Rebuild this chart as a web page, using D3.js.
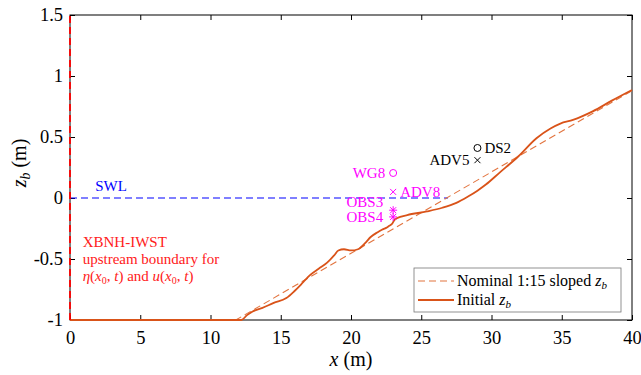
<!DOCTYPE html>
<html>
<head>
<meta charset="utf-8">
<script src="https://cdn.jsdelivr.net/npm/d3@7"></script>
<style>
  body { margin: 0; background: #fff; }
  text { font-family: "Liberation Serif", "DejaVu Serif", serif; }
</style>
</head>
<body>
<svg id="chart" width="641" height="375"></svg>
<script>
// 初始床面剖面 (x, z_b)
const bedX = [0, 5, 10, 12.2, 12.6, 13.0, 13.7, 14.5, 15.4, 16.0, 16.6, 17.1, 17.7, 18.3, 18.8, 19.1, 19.5, 20.0, 20.5, 21.0, 21.4, 21.9, 22.2, 22.5, 22.7, 22.9, 23.1, 23.5, 24.0, 25.4, 26.5, 27.5, 28.3, 29.0, 29.6, 30.6, 31.9, 33.2, 34.2, 34.9, 35.8, 37.2, 38.6, 40];
const bedZ = [-1, -1, -1, -1, -0.96, -0.93, -0.90, -0.86, -0.82, -0.76, -0.69, -0.63, -0.58, -0.53, -0.47, -0.43, -0.42, -0.43, -0.42, -0.37, -0.32, -0.28, -0.26, -0.245, -0.23, -0.215, -0.18, -0.155, -0.14, -0.11, -0.08, -0.04, 0.01, 0.06, 0.11, 0.21, 0.34, 0.49, 0.57, 0.61, 0.64, 0.71, 0.80, 0.885];

// 名义 1:15 坡度
const nominalX = [0, 11.8, 40];
const nominalZ = [-1, -1, 0.88];

// 测点
const probes = [
  { name: 'WG8', x: 23, z: 0.205, sym: 'o', color: '#ff00ff', side: 'left' },
  { name: 'ADV8', x: 23, z: 0.05, sym: 'x', color: '#ff00ff', side: 'right' },
  { name: 'OBS3', x: 23, z: -0.10, sym: '*', color: '#ff00ff', side: 'none' },
  { name: 'OBS4', x: 23, z: -0.155, sym: '*', color: '#ff00ff', side: 'none' },
  { name: 'DS2', x: 29, z: 0.41, sym: 'o', color: '#000', side: 'right' },
  { name: 'ADV5', x: 29, z: 0.31, sym: 'x', color: '#000', side: 'left' }
];

const xTicks = [0, 5, 10, 15, 20, 25, 30, 35, 40];
const yTicks = [-1, -0.5, 0, 0.5, 1, 1.5];

const margin = { top: 15, right: 9, bottom: 55, left: 70 };
const width = 641 - margin.left - margin.right;
const height = 375 - margin.top - margin.bottom;

const svg = d3.select('#chart');
const g = svg.append('g').attr('transform', `translate(${margin.left},${margin.top})`);

const x = d3.scaleLinear().domain([0, 40]).range([0, width]);
const y = d3.scaleLinear().domain([-1, 1.5]).range([height, 0]);

const orange = '#d95319';
const magenta = '#ff00ff';

// 坐标轴
const axisStyle = sel => {
  sel.select('.domain').remove();
  sel.selectAll('line').attr('stroke', '#000');
  sel.selectAll('text').attr('font-size', 18.5).attr('fill', '#000')
    .style('font-family', '"Liberation Serif", serif');
};
g.append('g').attr('transform', `translate(0,${height})`)
  .call(d3.axisBottom(x).tickValues(xTicks).tickSize(-5).tickPadding(11).tickFormat(d3.format('d')))
  .call(axisStyle);
g.append('g')
  .call(d3.axisLeft(y).tickValues(yTicks).tickSize(-5).tickPadding(7).tickFormat(d => d))
  .call(axisStyle);
g.append('g').attr('transform', `translate(${width},0)`)
  .call(d3.axisRight(y).tickValues(yTicks).tickSize(-5).tickFormat(''))
  .call(axisStyle);
g.append('g')
  .call(d3.axisTop(x).tickValues(xTicks).tickSize(-5).tickFormat(''))
  .call(axisStyle);
g.append('rect').attr('width', width).attr('height', height)
  .attr('fill', 'none').attr('stroke', '#000').attr('stroke-width', 1);

// SWL
g.append('line')
  .attr('x1', x(0)).attr('x2', x(26.9))
  .attr('y1', y(0)).attr('y2', y(0))
  .attr('stroke', '#0000ff').attr('stroke-width', 1.2)
  .attr('stroke-dasharray', '7,4');
g.append('text').attr('x', x(1.8)).attr('y', y(0) - 7)
  .attr('fill', '#0000ff').attr('font-size', 15).text('SWL');

// 名义坡度
const line = d3.line().x(d => x(d[0])).y(d => y(d[1]));
g.append('path')
  .datum(d3.zip(nominalX, nominalZ))
  .attr('d', line)
  .attr('fill', 'none').attr('stroke', '#e2743f').attr('stroke-width', 1.1)
  .attr('stroke-dasharray', '7,4');

// 初始床面
g.append('path')
  .datum(d3.zip(bedX, bedZ))
  .attr('d', line.curve(d3.curveMonotoneX))
  .attr('fill', 'none').attr('stroke', orange).attr('stroke-width', 1.8);

// 上游边界
g.append('line')
  .attr('x1', x(0)).attr('x2', x(0))
  .attr('y1', y(-1)).attr('y2', y(1.5))
  .attr('stroke', '#ff0000').attr('stroke-width', 1.8)
  .attr('stroke-dasharray', '7,4');

const red = g.append('text').attr('fill', '#ff2020').attr('font-size', 15);
red.append('tspan').attr('x', x(0.9)).attr('y', y(-0.4)).text('XBNH-IWST');
red.append('tspan').attr('x', x(0.9)).attr('y', y(-0.54)).text('upstream boundary for');
const l3 = red.append('tspan').attr('x', x(0.9)).attr('y', y(-0.68));
l3.append('tspan').attr('font-style', 'italic').text('η');
l3.append('tspan').text('(');
l3.append('tspan').attr('font-style', 'italic').text('x');
l3.append('tspan').attr('font-size', 10).attr('dy', 3).text('0');
l3.append('tspan').attr('dy', -3).text(', ');
l3.append('tspan').attr('font-style', 'italic').text('t');
l3.append('tspan').text(') and ');
l3.append('tspan').attr('font-style', 'italic').text('u');
l3.append('tspan').text('(');
l3.append('tspan').attr('font-style', 'italic').text('x');
l3.append('tspan').attr('font-size', 10).attr('dy', 3).text('0');
l3.append('tspan').attr('dy', -3).text(', ');
l3.append('tspan').attr('font-style', 'italic').text('t');
l3.append('tspan').text(')');

// 测点符号
probes.forEach(p => {
  const px = x(p.x), py = y(p.z);
  const s = g.append('g').attr('stroke', p.color).attr('fill', 'none').attr('stroke-width', 1);
  if (p.sym === 'o') {
    s.append('circle').attr('cx', px).attr('cy', py).attr('r', 3.5);
  } else if (p.sym === 'x') {
    s.append('path').attr('d', `M${px - 3},${py - 3}L${px + 3},${py + 3}M${px - 3},${py + 3}L${px + 3},${py - 3}`);
  } else {
    s.append('path').attr('d', `M${px - 3},${py - 3}L${px + 3},${py + 3}M${px - 3},${py + 3}L${px + 3},${py - 3}M${px},${py - 4}L${px},${py + 4}M${px - 4},${py}L${px + 4},${py}`);
  }
  if (p.side === 'left') {
    g.append('text').attr('x', px - 8).attr('y', py + 5).attr('text-anchor', 'end')
      .attr('fill', p.color).attr('font-size', 15).text(p.name);
  } else if (p.side === 'right') {
    g.append('text').attr('x', px + 7).attr('y', py + 5)
      .attr('fill', p.color).attr('font-size', 15).text(p.name);
  }
});
g.append('text').attr('x', x(23) - 10).attr('y', y(-0.07)).attr('text-anchor', 'end')
  .attr('fill', magenta).attr('font-size', 15).text('OBS3');
g.append('text').attr('x', x(23) - 10).attr('y', y(-0.195)).attr('text-anchor', 'end')
  .attr('fill', magenta).attr('font-size', 15).text('OBS4');

// 轴标题
const xl = svg.append('text').attr('x', margin.left + width / 2).attr('y', 366)
  .attr('text-anchor', 'middle').attr('font-size', 20);
xl.append('tspan').attr('font-style', 'italic').text('x');
xl.append('tspan').text(' (m)');
const yl = svg.append('text')
  .attr('transform', 'translate(26,163) rotate(-90)')
  .attr('text-anchor', 'middle').attr('font-size', 20);
yl.append('tspan').attr('font-style', 'italic').text('z');
yl.append('tspan').attr('font-style', 'italic').attr('font-size', 14).attr('dy', 4).text('b');
yl.append('tspan').attr('dy', -4).text(' (m)');

// 图例
const lg = svg.append('g').attr('transform', 'translate(414,268)');
lg.append('rect').attr('width', 207).attr('height', 44)
  .attr('fill', '#fff').attr('stroke', '#777').attr('stroke-width', 0.8);
lg.append('line').attr('x1', 4).attr('x2', 40).attr('y1', 13).attr('y2', 13)
  .attr('stroke', '#e2743f').attr('stroke-width', 1.1).attr('stroke-dasharray', '7,4');
lg.append('line').attr('x1', 4).attr('x2', 40).attr('y1', 32).attr('y2', 32)
  .attr('stroke', orange).attr('stroke-width', 1.8);
const t1 = lg.append('text').attr('x', 43).attr('y', 18).attr('font-size', 16);
t1.append('tspan').text('Nominal 1:15 sloped ');
t1.append('tspan').attr('font-style', 'italic').text('z');
t1.append('tspan').attr('font-style', 'italic').attr('font-size', 11).attr('dy', 3).text('b');
const t2 = lg.append('text').attr('x', 43).attr('y', 37).attr('font-size', 16);
t2.append('tspan').text('Initial ');
t2.append('tspan').attr('font-style', 'italic').text('z');
t2.append('tspan').attr('font-style', 'italic').attr('font-size', 11).attr('dy', 3).text('b');
</script>
</body>
</html>
